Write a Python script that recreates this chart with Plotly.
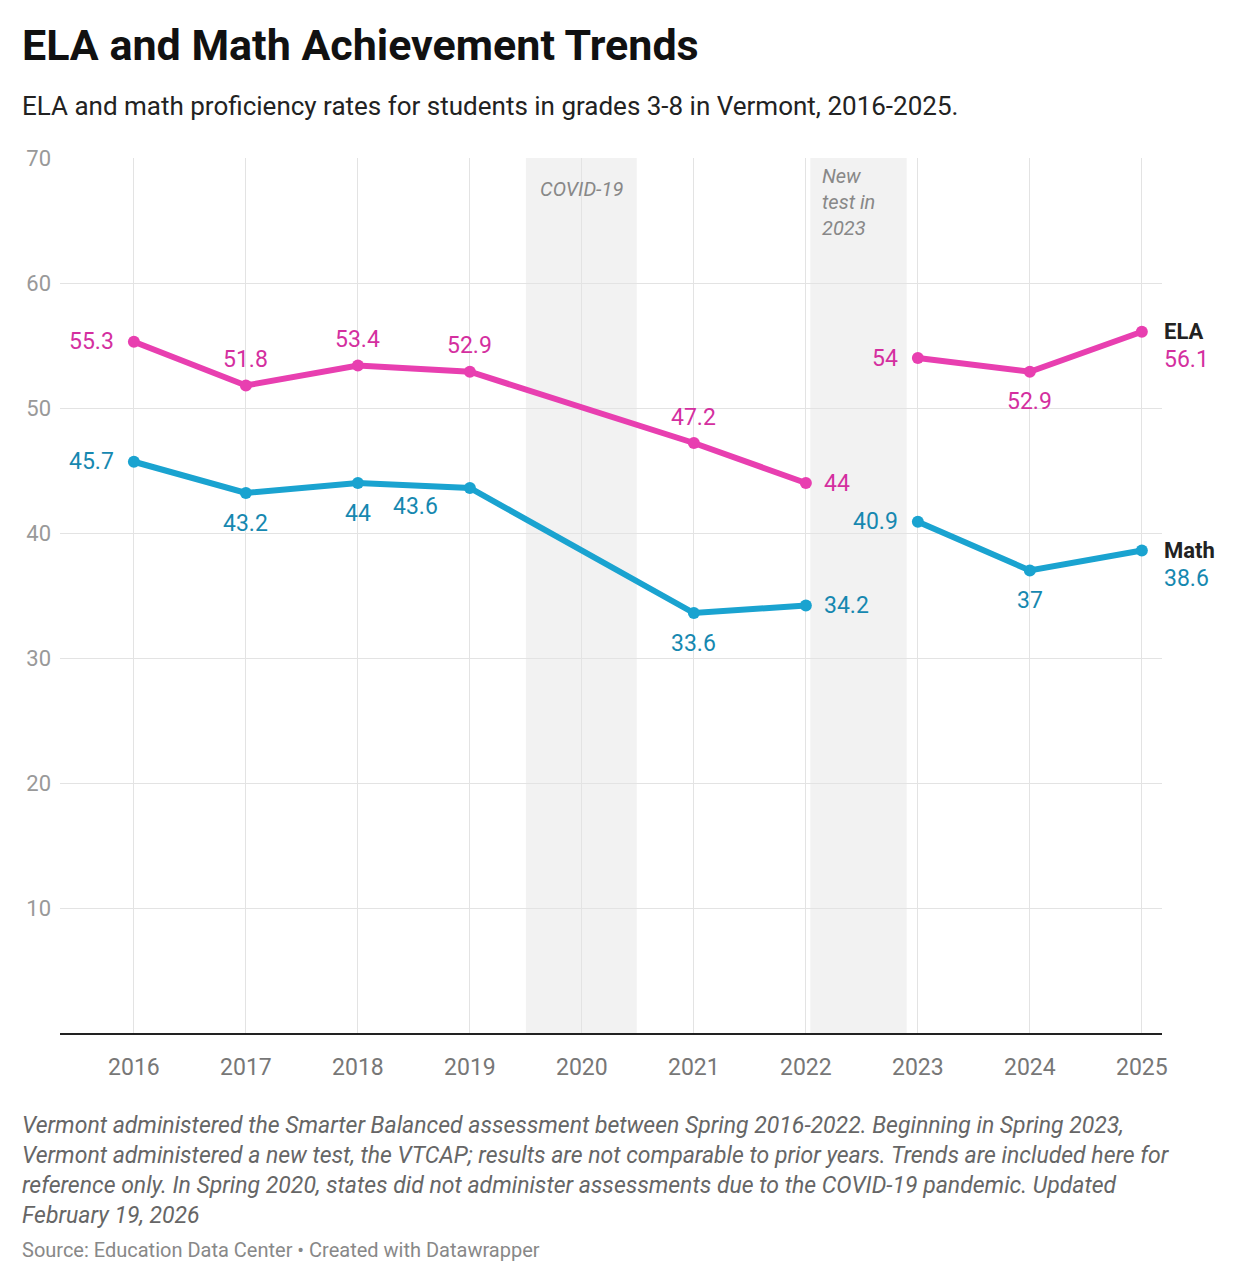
import plotly.graph_objects as go

# Data
years_a = [2016, 2017, 2018, 2019, 2021, 2022]
years_b = [2023, 2024, 2025]
ela_a = [55.3, 51.8, 53.4, 52.9, 47.2, 44]
ela_b = [54, 52.9, 56.1]
math_a = [45.7, 43.2, 44, 43.6, 33.6, 34.2]
math_b = [40.9, 37, 38.6]

ELA_LINE, ELA_TEXT = '#e83fb0', '#d42f9f'
MATH_LINE, MATH_TEXT = '#1aa3d0', '#1688b0'
FONT = 'Roboto'

fig = go.Figure()

# shaded periods
fig.add_vrect(x0=2019.5, x1=2020.49, fillcolor='#f2f2f2', line_width=0, layer='below')
fig.add_vrect(x0=2022.04, x1=2022.9, fillcolor='#f2f2f2', line_width=0, layer='below')

for xs, ys, col in [(years_a, ela_a, ELA_LINE), (years_b, ela_b, ELA_LINE),
                    (years_a, math_a, MATH_LINE), (years_b, math_b, MATH_LINE)]:
    fig.add_trace(go.Scatter(x=xs, y=ys, mode='lines+markers',
                             line=dict(color=col, width=6),
                             marker=dict(color=col, size=12),
                             showlegend=False, hoverinfo='skip'))

# label placement: (xshift, yshift, xanchor)
ela_pos = [(-18, 0, 'right'), (0, 26, 'center'), (0, 26, 'center'), (0, 26, 'center'),
           (0, 26, 'center'), (16, 0, 'left')]
ela_pos_b = [(-18, 0, 'right'), (0, -30, 'center'), (20, -28, 'left')]
math_pos = [(-18, 0, 'right'), (0, -30, 'center'), (0, -30, 'center'), (-54, -18, 'center'),
            (0, -30, 'center'), (16, 0, 'left')]
math_pos_b = [(-18, 0, 'right'), (0, -30, 'center'), (20, -28, 'left')]

def label(xs, ys, pos, color):
    for x, y, (dx, dy, xa) in zip(xs, ys, pos):
        fig.add_annotation(x=x, y=y, text=str(y), showarrow=False, xshift=dx, yshift=dy,
                           xanchor=xa, font=dict(family=FONT, size=23, color=color))

label(years_a, ela_a, ela_pos, ELA_TEXT)
label(years_b, ela_b, ela_pos_b, ELA_TEXT)
label(years_a, math_a, math_pos, MATH_TEXT)
label(years_b, math_b, math_pos_b, MATH_TEXT)

fig.add_annotation(x=years_b[-1], y=ela_b[-1], text='<b>ELA</b>', showarrow=False,
                   xshift=20, yshift=0, xanchor='left', font=dict(family=FONT, size=22, color='#222'))
fig.add_annotation(x=years_b[-1], y=math_b[-1], text='<b>Math</b>', showarrow=False,
                   xshift=20, yshift=0, xanchor='left', font=dict(family=FONT, size=22, color='#222'))

fig.add_annotation(x=2020, y=67.5, text='<i>COVID-19</i>', showarrow=False,
                   font=dict(family=FONT, size=20, color='#888'))
fig.add_annotation(x=2022.13, y=69.7, text='<i>New<br>test in<br>2023</i>', showarrow=False,
                   xanchor='left', yanchor='top', align='left',
                   font=dict(family=FONT, size=20, color='#888'))

# titles and notes
fig.add_annotation(xref='paper', yref='paper', x=-0.036, y=1.129, xanchor='left', yanchor='middle',
                   text='<b>ELA and Math Achievement Trends</b>', showarrow=False,
                   font=dict(family=FONT, size=43, color='#111'))
fig.add_annotation(xref='paper', yref='paper', x=-0.036, y=1.059, xanchor='left', yanchor='middle',
                   text='ELA and math proficiency rates for students in grades 3-8 in Vermont, 2016-2025.',
                   showarrow=False, font=dict(family=FONT, size=26, color='#222'))
fig.add_annotation(xref='paper', yref='paper', x=-0.036, y=-0.088, xanchor='left', yanchor='top',
                   align='left', showarrow=False,
                   text='<i>Vermont administered the Smarter Balanced assessment between Spring 2016-2022. Beginning in Spring 2023,<br>'
                        'Vermont administered a new test, the VTCAP; results are not comparable to prior years. Trends are included here for<br>'
                        'reference only. In Spring 2020, states did not administer assessments due to the COVID-19 pandemic. Updated<br>'
                        'February 19, 2026</i>',
                   font=dict(family=FONT, size=23, color='#666'))
fig.add_annotation(xref='paper', yref='paper', x=-0.036, y=-0.232, xanchor='left', yanchor='top',
                   showarrow=False, text='Source: Education Data Center • Created with Datawrapper',
                   font=dict(family=FONT, size=20, color='#888'))

fig.update_layout(
    width=1238, height=1282,
    margin=dict(l=52, r=84, t=150, b=257),
    plot_bgcolor='white', paper_bgcolor='white',
    font=dict(family=FONT),
    xaxis=dict(range=[2015.34, 2025.18], tickvals=list(range(2016, 2026)),
               showgrid=True, gridcolor='#e3e3e3', gridwidth=1,
               showline=True, linecolor='#222', linewidth=2, zeroline=False,
               tickfont=dict(size=23, color='#777'), ticks='', ticklabelstandoff=12),
    yaxis=dict(range=[0, 70], tickvals=[10, 20, 30, 40, 50, 60, 70],
               showgrid=True, gridcolor='#e3e3e3', gridwidth=1, zeroline=False,
               tickfont=dict(size=22, color='#999'), ticks='', ticklabelstandoff=8),
)

fig.write_html('out.html')
